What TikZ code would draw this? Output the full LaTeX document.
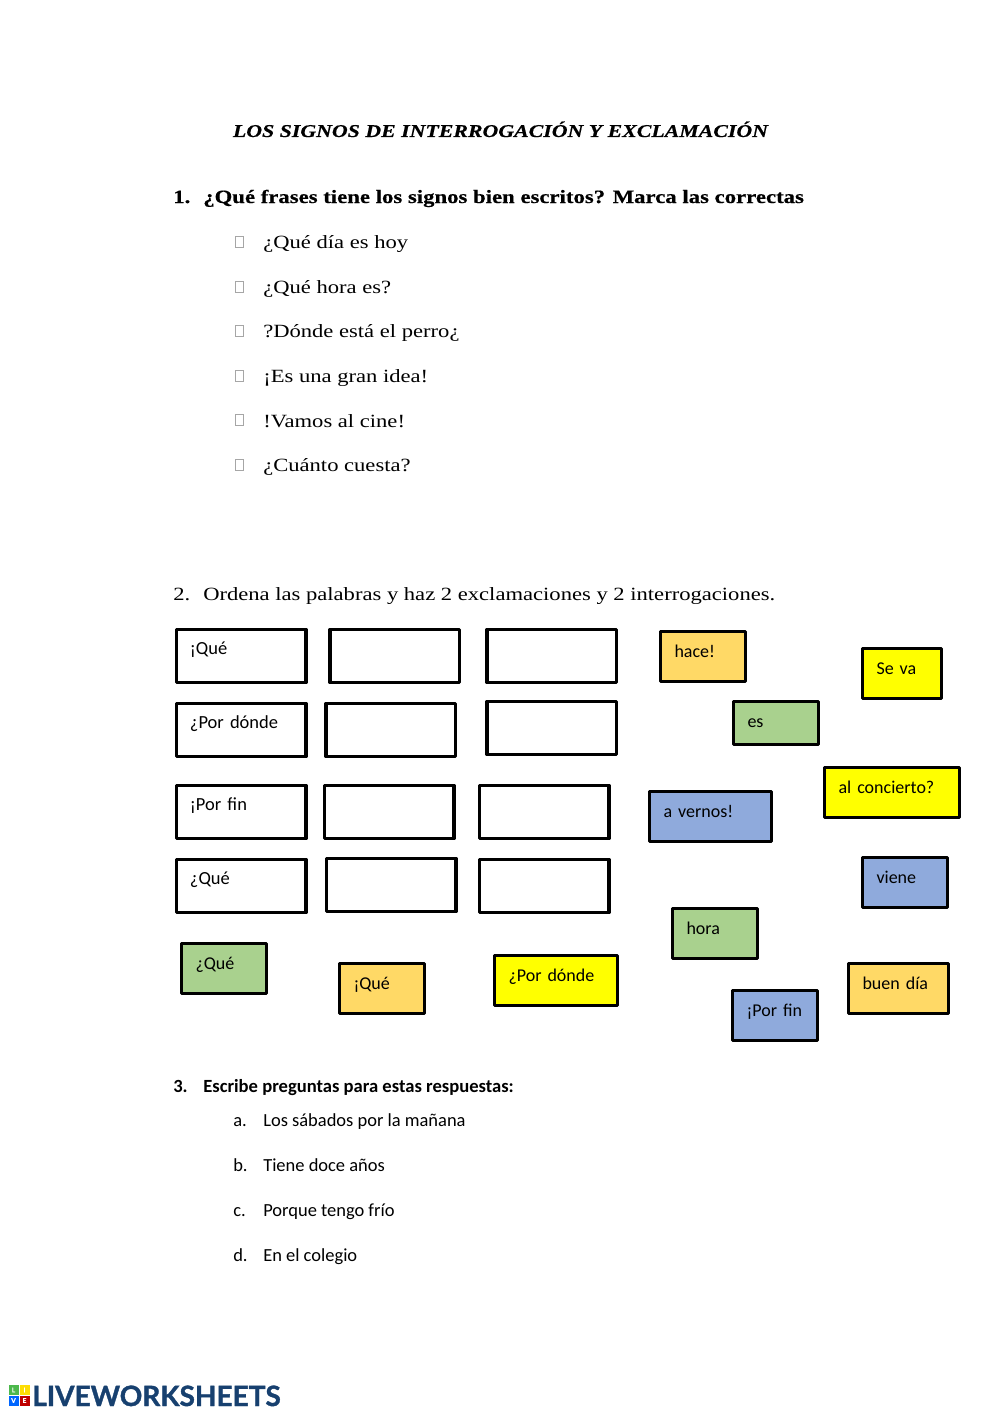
\documentclass[tikz,border=0pt]{standalone}
\usepackage{fontspec}
\setmainfont{Liberation Serif}
\newfontfamily\bookfont[FakeStretch=1.21,BoldFeatures={FakeBold=0.5},BoldItalicFeatures={FakeBold=0.5}]{Liberation Serif}
\newfontfamily\bodyfont{Carlito}
\newfontfamily\logofont[FakeBold=1.2]{Lato}
\usepackage{tikz}
\definecolor{tileorange}{HTML}{FFD966}
\definecolor{tileyellow}{HTML}{FFFF00}
\definecolor{tilegreen}{HTML}{A9D18E}
\definecolor{tileblue}{HTML}{8FAADC}
\definecolor{logoblue}{HTML}{17406F}

\begin{document}
\begin{tikzpicture}[
    x=0.75pt, y=-0.75pt,
    % Styles
    headline/.style={anchor=base, inner sep=0pt, font=\bookfont\fontsize{13.55pt}{16pt}\selectfont\bfseries\itshape},
    question/.style={anchor=base west, inner sep=0pt, font=\bookfont\fontsize{14.1pt}{15pt}\selectfont\bfseries},
    plainline/.style={anchor=base west, inner sep=0pt, font=\bookfont\fontsize{14pt}{15pt}\selectfont},
    tickbox/.style={draw=black!35, line width=0.5pt, minimum width=6pt, minimum height=8pt, inner sep=0pt},
    answerline/.style={anchor=base west, inner sep=0pt, font=\bodyfont\fontsize{13.85pt}{15pt}\selectfont},
    boldline/.style={answerline, font=\bodyfont\fontsize{13.95pt}{15pt}\selectfont\bfseries},
    wordbox/.style={draw=black, line width=2.5pt, line join=round, outer sep=0pt, anchor=north west, inner ysep=0pt, inner xsep=10.1pt,
        text width=77pt, text height=19.1pt, text depth=20.6pt, align=left, font=\bodyfont\fontsize{13.85pt}{15pt}\selectfont},
    tile/.style={wordbox, line width=2.25pt, inner xsep=10.5pt, text height=19.3pt, text depth=17.9pt, font=\bodyfont\fontsize{13.5pt}{15pt}\selectfont},
    tile orange/.style={tile, fill=tileorange},
    tile yellow/.style={tile, fill=tileyellow},
    tile green/.style={tile, fill=tilegreen},
    tile blue/.style={tile, fill=tileblue},
    logosquare/.style={minimum size=7.5pt, inner sep=0pt, text=white, font=\logofont\fontsize{5pt}{5pt}\selectfont\bfseries}
]
    \useasboundingbox (0,0) rectangle (1000,1413);

    % Title
    \node[headline] (title) at (500.5,137) {LOS SIGNOS DE INTERROGACIÓN Y EXCLAMACIÓN};

    % Question 1
    \node[question] (qonenum) at (173,203) {1.};
    \node[question] (qone) at (203,203) {¿Qué frases tiene los signos bien escritos? Marca las correctas};

    \node[tickbox] (tick1) at (239,242) {};
    \node[plainline] (opt1) at (263,248) {¿Qué día es hoy};
    \node[tickbox] (tick2) at (239,287) {};
    \node[plainline] (opt2) at (263,293) {¿Qué hora es?};
    \node[tickbox] (tick3) at (239,331) {};
    \node[plainline] (opt3) at (263,337) {?Dónde está el perro¿};
    \node[tickbox] (tick4) at (239,376) {};
    \node[plainline] (opt4) at (263,382) {¡Es una gran idea!};
    \node[tickbox] (tick5) at (239,420) {};
    \node[plainline] (opt5) at (263,427) {!Vamos al cine!};
    \node[tickbox] (tick6) at (239,465) {};
    \node[plainline] (opt6) at (263,471) {¿Cuánto cuesta?};

    % Question 2
    \node[plainline] (qtwonum) at (173,600) {2.};
    \node[plainline] (qtwo) at (203,600) {Ordena las palabras y haz 2 exclamaciones y 2 interrogaciones.};

    % Answer boxes, one row of three per sentence
    \node[wordbox] (box11) at (176.5,629.5) {¡Qué};
    \node[wordbox] (box12) at (330,629.5) {};
    \node[wordbox] (box13) at (487,629.5) {};
    \node[wordbox] (box21) at (176.5,703.5) {¿Por dónde};
    \node[wordbox] (box22) at (326,703.5) {};
    \node[wordbox] (box23) at (487,701.5) {};
    \node[wordbox] (box31) at (176.5,785.5) {¡Por fin};
    \node[wordbox] (box32) at (324.5,785.5) {};
    \node[wordbox] (box33) at (479.5,785.5) {};
    \node[wordbox] (box41) at (176.5,859.5) {¿Qué};
    \node[wordbox] (box42) at (326.5,858.5) {};
    \node[wordbox] (box43) at (479.5,859.5) {};

    % Loose word tiles
    \node[tile orange, text width=43pt] (hace) at (660.5,631.5) {hace!};
    \node[tile yellow, text width=38.5pt] (seva) at (862.5,648.5) {Se va};
    \node[tile green, text width=43pt, text depth=12.9pt] (es) at (733.5,701.5) {es};
    \node[tile yellow, text width=80pt] (concierto) at (824.5,767.5) {al concierto?};
    \node[tile blue, text width=70.5pt] (vernos) at (649.5,791.5) {a vernos!};
    \node[tile blue, text width=43pt] (viene) at (862.5,857.5) {viene};
    \node[tile green, text width=43pt] (hora) at (672.5,908.5) {hora};
    \node[tile green, text width=43pt] (que1) at (181.5,943.5) {¿Qué};
    \node[tile orange, text width=43pt] (que2) at (339.5,963.5) {¡Qué};
    \node[tile yellow, text width=71pt] (pordonde) at (494.5,955.5) {¿Por dónde};
    \node[tile blue, text width=43pt] (porfin) at (732.5,990.5) {¡Por fin};
    \node[tile orange, text width=54pt] (buendia) at (848.5,963.5) {buen día};

    % Question 3
    \node[boldline] (qthreenum) at (173,1092) {3.};
    \node[boldline] (qthree) at (203,1092) {Escribe preguntas para estas respuestas:};
    \node[answerline] (letta) at (233,1126) {a.};
    \node[answerline] (answa) at (263,1126) {Los sábados por la mañana};
    \node[answerline] (lettb) at (233,1171) {b.};
    \node[answerline] (answb) at (263,1171) {Tiene doce años};
    \node[answerline] (lettc) at (233,1216) {c.};
    \node[answerline] (answc) at (263,1216) {Porque tengo frío};
    \node[answerline] (lettd) at (233,1261) {d.};
    \node[answerline] (answd) at (263,1261) {En el colegio};

    % Logo
    \node[logosquare, fill=green!60!black!70] (logol) at (13.5,1390) {L};
    \node[logosquare, fill=yellow!80!orange] (logoi) at (24.5,1390) {I};
    \node[logosquare, fill=blue!60!cyan] (logov) at (13.5,1400.5) {V};
    \node[logosquare, fill=red!75!black] (logoe) at (24.5,1400.5) {E};
    \node[anchor=base west, inner sep=0pt, text=logoblue, font=\logofont\fontsize{21pt}{22pt}\selectfont\bfseries] (logo) at (32,1406) {LIVEWORKSHEETS};
\end{tikzpicture}
\end{document}
